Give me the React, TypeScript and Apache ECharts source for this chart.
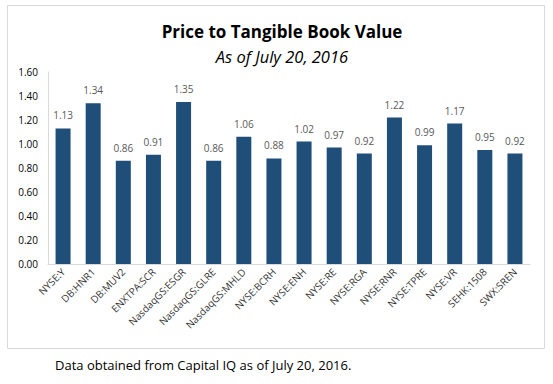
import React, { useEffect, useRef } from "react";
import * as echarts from "echarts";

const categories = [
  "NYSE:Y", "DB:HNR1", "DB:MUV2", "ENXTPA:SCR", "NasdaqGS:ESGR", "NasdaqGS:GLRE",
  "NasdaqGS:MHLD", "NYSE:BCRH", "NYSE:ENH", "NYSE:RE", "NYSE:RGA", "NYSE:RNR",
  "NYSE:TPRE", "NYSE:VR", "SEHK:1508", "SWX:SREN",
];
const values = [1.13, 1.34, 0.86, 0.91, 1.35, 0.86, 1.06, 0.88, 1.02, 0.97, 0.92, 1.22, 0.99, 1.17, 0.95, 0.92];
const title = "Price to Tangible Book Value";
const subtitle = "As of July 20, 2016";
const footnote = "Data obtained from Capital IQ as of July 20, 2016.";

export default function App() {
  const ref = useRef<HTMLDivElement>(null);
  useEffect(() => {
    const chart = echarts.init(ref.current!, null, { renderer: "svg" });
    chart.setOption({
      animation: false,
      backgroundColor: "#ffffff",
      title: {
        text: title,
        subtext: subtitle,
        left: 277,
        textAlign: "center",
        top: 17,
        itemGap: 6,
        textStyle: { fontFamily: "Open Sans", fontWeight: "bold", fontSize: 17, lineHeight: 19, color: "#000" },
        subtextStyle: { fontFamily: "Open Sans", fontStyle: "italic", fontSize: 16.5, lineHeight: 18, color: "#000" },
      },
      graphic: [
        {
          type: "rect",
          shape: { x: 7.5, y: 5.5, width: 537, height: 343 },
          style: { fill: "none", stroke: "#d9d9d9", lineWidth: 1 },
          silent: true,
          z: -1,
        },
        {
          type: "text",
          x: 55,
          y: 358,
          style: { text: footnote, fontFamily: "Open Sans", fontSize: 13, fill: "#000" },
        },
      ],
      grid: { left: 48, right: 23, top: 72, bottom: 120 },
      xAxis: {
        type: "category",
        data: categories,
        axisLine: { lineStyle: { color: "#d9d9d9" } },
        axisTick: { show: false },
        axisLabel: {
          interval: 0,
          rotate: 45,
          fontFamily: "Open Sans",
          fontSize: 10,
          color: "#333",
          margin: 6,
        },
      },
      yAxis: {
        type: "value",
        min: 0,
        max: 1.6,
        interval: 0.2,
        axisLine: { show: true, lineStyle: { color: "#d9d9d9" } },
        splitLine: { show: false },
        axisTick: { show: false },
        axisLabel: {
          formatter: (v: number) => v.toFixed(2),
          fontFamily: "Open Sans",
          fontSize: 10,
          color: "#000",
          margin: 10,
        },
      },
      series: [
        {
          type: "bar",
          data: values,
          barWidth: 15,
          itemStyle: { color: "#1F4E79" },
          label: {
            show: true,
            position: "top",
            distance: 8,
            formatter: (p: any) => p.value.toFixed(2),
            fontFamily: "Open Sans",
            fontSize: 10,
            color: "#595959",
          },
        },
      ],
    });
    return () => chart.dispose();
  }, []);
  return <div ref={ref} style={{ position: "fixed", left: 0, top: 0, width: 553, height: 384 }} />;
}
